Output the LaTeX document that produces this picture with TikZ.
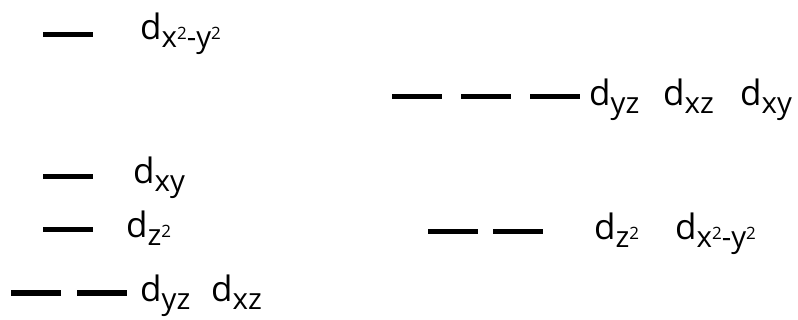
\documentclass[tikz,border=0pt]{standalone}
\usepackage{fontspec}
\setmainfont{Open Sans}
\newcommand{\orbd}[1]{{\fontsize{35}{35}\selectfont d}\raisebox{-8pt}{\fontsize{29.5}{29.5}\selectfont #1}}
\newcommand{\sqtwo}{\raisebox{8.5pt}{\fontsize{17}{17}\selectfont 2}}
\tikzset{
  lvl/.style={fill=black, draw=none, minimum width=50pt, minimum height=5.5pt, inner sep=0pt, anchor=west},
  lab/.style={anchor=base west, inner sep=0pt, text=black}
}
\begin{document}
\begin{tikzpicture}[x=1pt,y=-1pt]
\useasboundingbox (0,0) rectangle (798,320);
% left side
\node[lvl] (l1) at (43,34.5) {};
\node[lab] (t1) at (140,40) {\orbd{x\sqtwo-y\sqtwo}};
\node[lvl] (l2) at (43,176.5) {};
\node[lab] (t2) at (133,184) {\orbd{xy}};
\node[lvl] (l3) at (43,229.5) {};
\node[lab] (t3) at (126,238) {\orbd{z\sqtwo}};
\node[lvl] (l4) at (11,293) {};
\node[lvl] (l5) at (77,293) {};
\node[lab] (t4) at (140,302) {\orbd{yz}};
\node[lab] (t5) at (211,302) {\orbd{xz}};
% right side
\node[lvl] (r1) at (392,96.5) {};
\node[lvl] (r2) at (461,96.5) {};
\node[lvl] (r3) at (530,96.5) {};
\node[lab] (u1) at (589,106) {\orbd{yz}};
\node[lab] (u2) at (663,106) {\orbd{xz}};
\node[lab] (u3) at (740,106) {\orbd{xy}};
\node[lvl] (r4) at (428,231.5) {};
\node[lvl] (r5) at (493,231.5) {};
\node[lab] (u4) at (594,240) {\orbd{z\sqtwo}};
\node[lab] (u5) at (675,240) {\orbd{x\sqtwo-y\sqtwo}};
\end{tikzpicture}
\end{document}
